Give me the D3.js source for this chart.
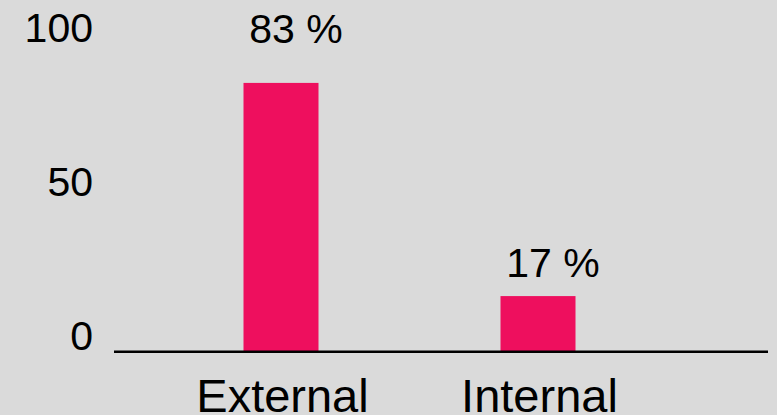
<!DOCTYPE html>
<meta charset="utf-8">
<style>
body { margin: 0; }
svg { background: #dadada; display: block; }
text { font-family: "Liberation Sans", Arial, sans-serif; fill: #000; }
</style>
<svg width="777" height="415"></svg>
<script src="https://d3js.org/d3.v7.min.js"></script>
<script>

var categories = ["External", "Internal"];
var values = [83, 17];
var valueLabels = ["83 %", "17 %"];
var tickValues = [0, 50, 100];

var svg = d3.select("svg");

// bar scale
var x = d3.scalePoint().domain(categories).range([281, 538]);
var y = d3.scaleLinear().domain([0, 100]).range([351, 28]);
// tick labels sit a bit higher than the bar scale would put them
var tickY = d3.scaleLinear().domain([0, 100]).range([336, 28]);
var labelY = d3.scaleLinear().domain([0, 100]).range([337, -17]);
var barWidth = 75;

svg.selectAll("rect.bar")
    .data(values)
  .enter().append("rect")
    .attr("class", "bar")
    .attr("x", function(d, i) { return x(categories[i]) - barWidth / 2; })
    .attr("y", function(d) { return y(d); })
    .attr("width", barWidth)
    .attr("height", function(d) { return y(0) - y(d); })
    .attr("fill", "#ee0f5e");

// value labels
svg.selectAll("text.value")
    .data(values)
  .enter().append("text")
    .attr("class", "value")
    .attr("x", function(d, i) { return x(categories[i]) + 15; })
    .attr("y", function(d) { return labelY(d); })
    .attr("text-anchor", "middle")
    .style("font-size", "41px")
    .text(function(d, i) { return valueLabels[i]; });

// y tick labels
var yAxis = svg.append("g")
    .attr("transform", "translate(93,0)")
    .call(d3.axisLeft(tickY).tickValues(tickValues).tickSize(0).tickPadding(0));
yAxis.select(".domain").remove();
yAxis.selectAll("text")
    .style("font-size", "41px")
    .attr("font-family", null);

// baseline
svg.append("line")
    .attr("x1", 114)
    .attr("x2", 768)
    .attr("y1", y(0) + 0.8)
    .attr("y2", y(0) + 0.8)
    .attr("stroke", "#000")
    .attr("stroke-width", 2.5);

// category labels
svg.selectAll("text.cat")
    .data(categories)
  .enter().append("text")
    .attr("class", "cat")
    .attr("x", function(d) { return x(d) + 1.5; })
    .attr("y", 412)
    .attr("text-anchor", "middle")
    .style("font-size", "47px")
    .text(function(d) { return d; });

</script>
